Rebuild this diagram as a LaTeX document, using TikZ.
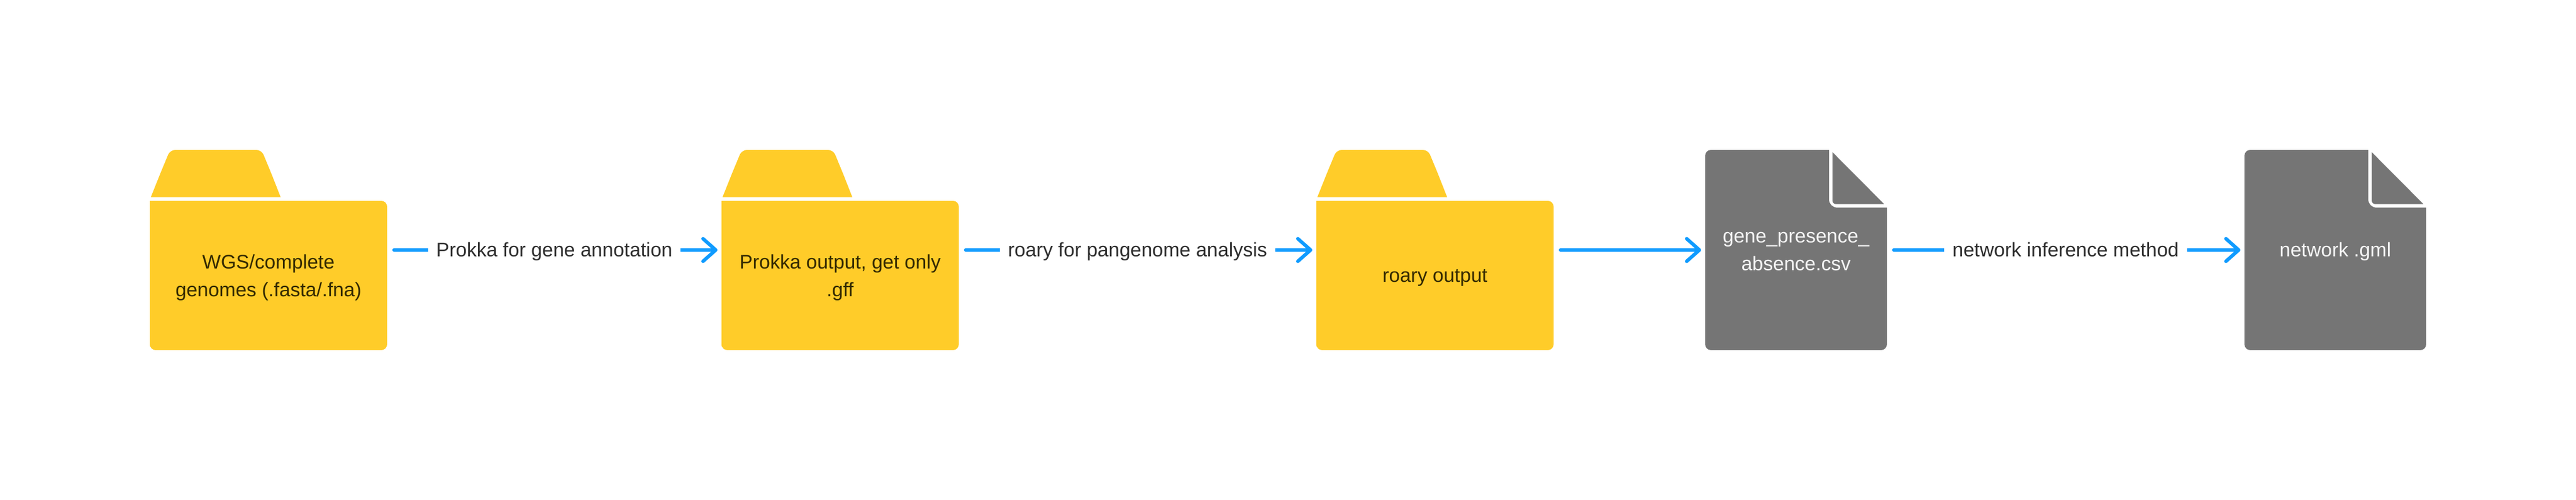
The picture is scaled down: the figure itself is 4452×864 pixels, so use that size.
\documentclass[tikz,border=0pt]{standalone}
\usepackage{fontspec}
\setmainfont{Liberation Sans}
\usetikzlibrary{arrows.meta}
\definecolor{folderyellow}{HTML}{FFCC29}
\definecolor{filegray}{HTML}{757575}
\definecolor{flowblue}{HTML}{0F9BFF}
\definecolor{labelink}{HTML}{2E2E2E}
\definecolor{folderink}{HTML}{332900}
\definecolor{fileink}{HTML}{F4F4F4}
\newcommand{\lineup}{\rule{0pt}{24pt}}
\newcommand{\linedown}{\rule[-8pt]{0pt}{8pt}}
\tikzset{
  iconbox/.style={minimum height=346pt,inner sep=0pt,outer sep=0pt},
  folderbox/.style={iconbox,minimum width=410pt},
  filebox/.style={iconbox,minimum width=314pt},
  baselabel/.style={font=\fontsize{34}{48}\selectfont,align=center,inner sep=0pt},
  foldertext/.style={baselabel,text=folderink},
  filetext/.style={baselabel,text=fileink},
  flow/.style={draw=flowblue,line width=6pt,line cap=round,shorten <=12pt,shorten >=7pt,
    -{Straight Barb[length=22pt,width=39pt,line width=6pt,round]}},
  flowlabel/.style={font=\fontsize{34}{48}\selectfont,text=labelink,fill=white,
    inner xsep=14pt,inner ysep=0pt,text height=24pt,text depth=8pt,yshift=-3pt}
}
\newcommand{\folderat}[2]{%
  \node[folderbox] (#1) at (#2+205,432) {};
  \begin{scope}[shift={(#2,0)}]
    \fill[folderyellow] (1.7,340.7) -- (18,300) [rounded corners=9pt] -- (35,259) -- (193,259) -- (210,300) [sharp corners] -- (226,340.7) -- cycle;
    \fill[folderyellow] (0,347) [rounded corners=10pt] -- (410,347) -- (410,605) -- (0,605) -- (0,590) [sharp corners] -- cycle;
  \end{scope}}
\newcommand{\fileat}[2]{%
  \node[filebox] (#1) at (#2+157,432) {};
  \begin{scope}[shift={(#2,0)}]
    \fill[filegray] (214,259) -- (214,300) [rounded corners=14pt] -- (214,358.7) -- (290,358.7) [sharp corners] -- (314,358.7) -- (314,400) [rounded corners=10pt] -- (314,605) -- (0,605) -- (0,259) -- (100,259) [sharp corners] -- cycle;
    \fill[filegray] (220,263) -- (309.3,352.7) -- (280,352.7) [rounded corners=6pt] -- (220,352.7) -- (220,320) [sharp corners] -- cycle;
  \end{scope}}
\begin{document}
\begin{tikzpicture}[x=1pt,y=-1pt]
\useasboundingbox (0,0) rectangle (4452,864);
\folderat{a}{259}
\folderat{b}{1247}
\folderat{c}{2275}
\fileat{d}{2947}
\fileat{e}{3879}
\node[foldertext] (ta) at (464,480) {\lineup WGS/complete\\genomes (.fasta/.fna)\linedown};
\node[foldertext] (tb) at (1452,480) {\lineup Prokka output, get only\\.gff\linedown};
\node[foldertext] (tc) at (2480,479) {\lineup roary output\linedown};
\node[filetext] (td) at (3104,435) {\lineup gene\_presence\_\\absence.csv\linedown};
\node[filetext] (te) at (4036,435) {\lineup network .gml\linedown};
\draw[flow] (a) -- node[flowlabel] (la) {Prokka for gene annotation} (b);
\draw[flow] (b) -- node[flowlabel] (lb) {roary for pangenome analysis} (c);
\draw[flow] (c) -- (d);
\draw[flow] (d) -- node[flowlabel] (ld) {network inference method} (e);
\end{tikzpicture}
\end{document}
